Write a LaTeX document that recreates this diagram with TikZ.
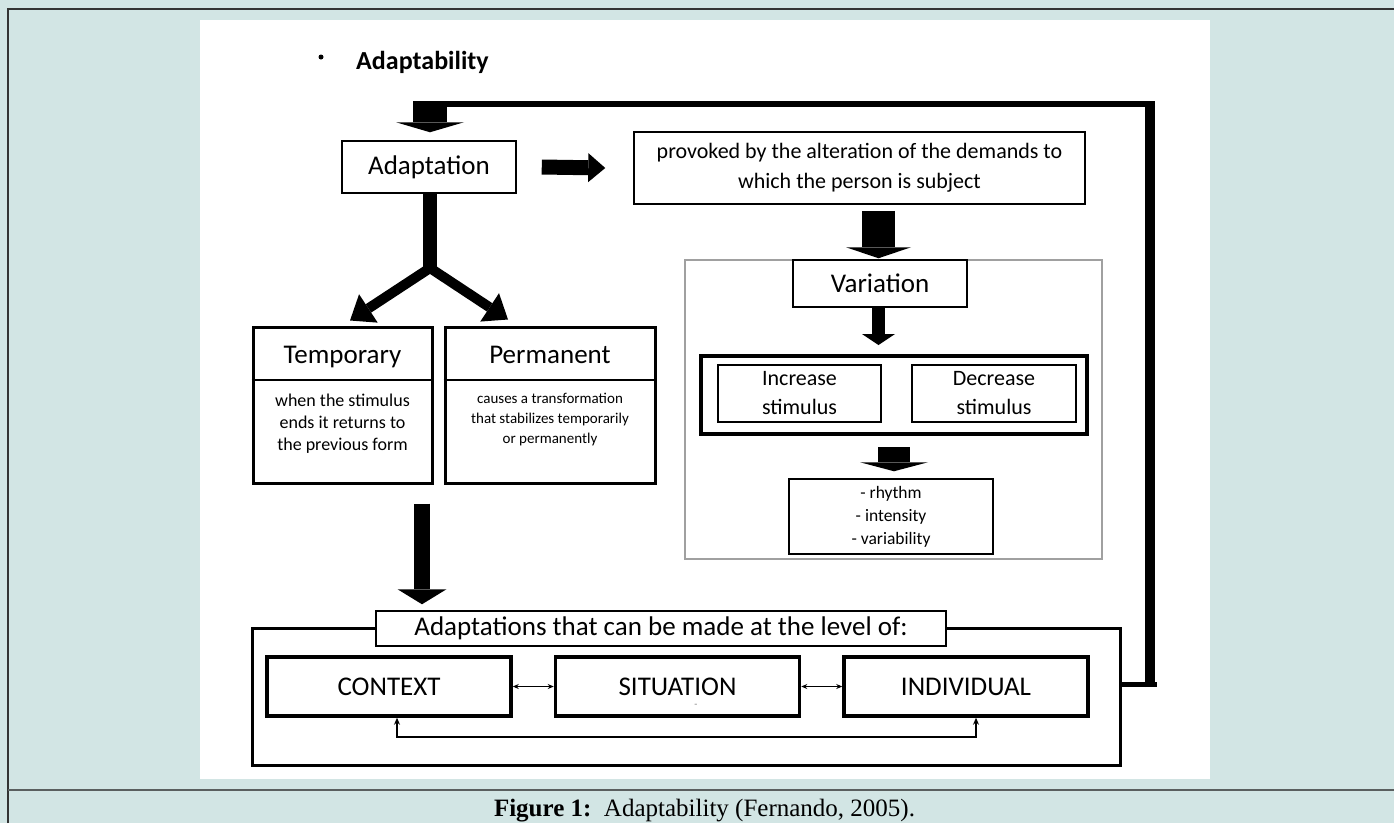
\documentclass[tikz,border=0pt]{standalone}
\usepackage{fontspec}
\setmainfont{Carlito}
\newfontfamily\capfont{Liberation Serif}
\usetikzlibrary{arrows.meta,calc}
\definecolor{bgteal}{HTML}{D2E5E4}
\definecolor{framecol}{HTML}{333333}
\definecolor{sepcol}{HTML}{5A5F5F}
\definecolor{groupgray}{HTML}{A0A0A0}
\newcommand\fsz[2]{\fontsize{#1}{#2}\selectfont}
\tikzset{
  box/.style={draw, line width=1.5pt, fill=white, inner sep=0pt, align=center},
  tbox/.style={draw, line width=3pt, fill=white, inner sep=0pt},
  cbox/.style={draw, line width=3.5pt, fill=white, inner sep=0pt, minimum width=244pt, minimum height=59pt, font=\fsz{27}{32}},
  barrow/.style n args={3}{line width=#1, -{Triangle[length=#3, width=#2, line width=0pt]}},
  thinarrow/.style={line width=1.5pt, {Stealth[length=6pt,width=5pt]}-{Stealth[length=6pt,width=5pt]}},
}
\begin{document}
\begin{tikzpicture}[x=1pt,y=-1pt]
\useasboundingbox (0,0) rectangle (1394,823);
% background
\fill[bgteal] (0,0) rectangle (1394,823);
\fill[white] (200,20) rectangle (1210,779);
\draw[framecol, line width=1.5pt] (8,823) -- (8,9) -- (1394,9);
\draw[sepcol, line width=2pt] (8,790) -- (1394,790);
% title
\fill (321,57) circle (2.5pt);
\node[anchor=west, inner sep=0pt, font=\bfseries\fsz{26}{30}] (title) at (356,62) {Adaptability};
% top row
\node[box, minimum width=174pt, minimum height=52pt, font=\fsz{27}{32}] (adapt) at (429,167) {Adaptation};
\node[box, minimum width=451pt, minimum height=72pt, font=\fsz{22}{30}] (prov) at (859.5,168) {provoked by the alteration of the demands to\\which the person is subject};
\draw[barrow={15pt}{29pt}{17pt}] ($(adapt.east)+(25,0)$) -- ($(prov.west)+(-28,0)$);
% variation group
\node[draw=groupgray, line width=1.5pt, minimum width=417pt, minimum height=299pt, inner sep=0pt] (vgroup) at (893.5,409.5) {};
\node[box, minimum width=174pt, minimum height=47pt, font=\fsz{27}{32}] (var) at (880,283.5) {Variation};
\draw[barrow={33pt}{65pt}{11pt}] ($(var.north |- prov.south)+(-1.5,6)$) -- ($(var.north)+(-1.5,-1)$);
\node[draw, line width=4pt, minimum width=386pt, minimum height=78pt, inner sep=0pt] (incdec) at (894,395) {};
\node[box, line width=2pt, minimum width=163pt, minimum height=57pt, font=\fsz{22}{29}] (inc) at (799.5,393.5) {Increase\\stimulus};
\node[box, line width=2pt, minimum width=164pt, minimum height=57pt, font=\fsz{22}{29}] (dec) at (994,393.5) {Decrease\\stimulus};
\draw[barrow={13pt}{33pt}{11pt}] ($(var.south)+(-1.5,0)$) -- ($(incdec.north -| var.south)+(-1.5,-9)$);
\node[box, minimum width=204pt, minimum height=75pt, font=\fsz{17.5}{23}] (rhy) at (891,516.5) {- rhythm\\- intensity\\- variability};
\draw[barrow={32pt}{68pt}{9pt}] ($(incdec.south)+(0,11)$) -- ($(rhy.north -| incdec.south)+(0,-7)$);
% temporary / permanent
\node[tbox, minimum width=179pt, minimum height=156pt] (temp) at (342.5,405) {};
\node[inner sep=0pt, anchor=base, font=\fsz{27}{32}] (temph) at (342.5,363) {Temporary};
\draw[line width=1.5pt] (temp.west |- 0,380) -- (temp.east |- 0,380);
\node[inner sep=0pt, align=center, font=\fsz{18}{22}] (tempb) at (342.5,424) {when the stimulus\\ends it returns to\\the previous form};
\node[tbox, minimum width=210pt, minimum height=156pt] (perm) at (550,405) {};
\node[inner sep=0pt, anchor=base, font=\fsz{27}{32}] (permh) at (550,363) {Permanent};
\draw[line width=1.5pt] (perm.west |- 0,380) -- (perm.east |- 0,380);
\node[inner sep=0pt, align=center, font=\fsz{15}{20}] (permb) at (550,420) {causes a transformation\\that stabilizes temporarily\\or permanently};
% split
\coordinate (split) at (430,268);
\draw[line width=14pt] ($(adapt.south)+(1,0)$) -- ($(adapt.south |- split)+(1,3)$);
\draw[barrow={10pt}{34pt}{22pt}] (split) -- ($(temp.north)+(7.5,-5)$);
\draw[barrow={10pt}{34pt}{22pt}] (split) -- ($(perm.north)+(-42,-6)$);
% bottom block
\node[draw, line width=3pt, minimum width=868pt, minimum height=137pt, inner sep=0pt] (outer) at (686,696.5) {};
\node[box, minimum width=570pt, minimum height=35pt, font=\fsz{27}{32}] (lbl) at (661,628.5) {Adaptations that can be made at the level of:};
\coordinate (bigA) at ($(temp.south)+(79.5,19)$);
\draw[barrow={16pt}{49pt}{15pt}] (bigA) -- ($(bigA |- lbl.north)+(0,-6)$);
\node[cbox] (ctx) at (389,686.5) {CONTEXT};
\node[cbox] (sit) at (677.5,686.5) {SITUATION};
\node[cbox] (ind) at (966,686.5) {INDIVIDUAL};
\node[inner sep=0pt, text=gray, font=\fsz{10}{10}] (dash) at (696,706) {-};
\draw[thinarrow] (ctx.east) -- (sit.west);
\draw[thinarrow] (sit.east) -- (ind.west);
\draw[line width=2pt, {Stealth[length=7pt,width=6pt]}-{Stealth[length=7pt,width=6pt]}] ($(ctx.south)+(8,0)$) -- ++(0,19) -| ($(ind.south)+(10,0)$);
% feedback loop
\coordinate (fbA) at ($(outer.east)+(0,-12)$);
\coordinate (fbB) at (1150,687);
\coordinate (fbC) at (1150,101);
\coordinate (fbD) at (1155,104);
\coordinate (fbE) at (447,104);
\draw[line width=5pt] (fbA) -- ($(fbA)+(35,0)$);
\draw[line width=10pt] (fbB) -- (fbC);
\draw[line width=6pt] (fbD) -- (fbE);
\draw[barrow={34pt}{68pt}{10pt}] (430,101) -- ($(adapt.north)+(1,-8)$);
% caption
\node[inner sep=0pt, font=\capfont\fsz{25}{30}] (cap) at (704.5,811) {\textbf{Figure 1:}\ \ Adaptability (Fernando, 2005).};
\end{tikzpicture}
\end{document}
